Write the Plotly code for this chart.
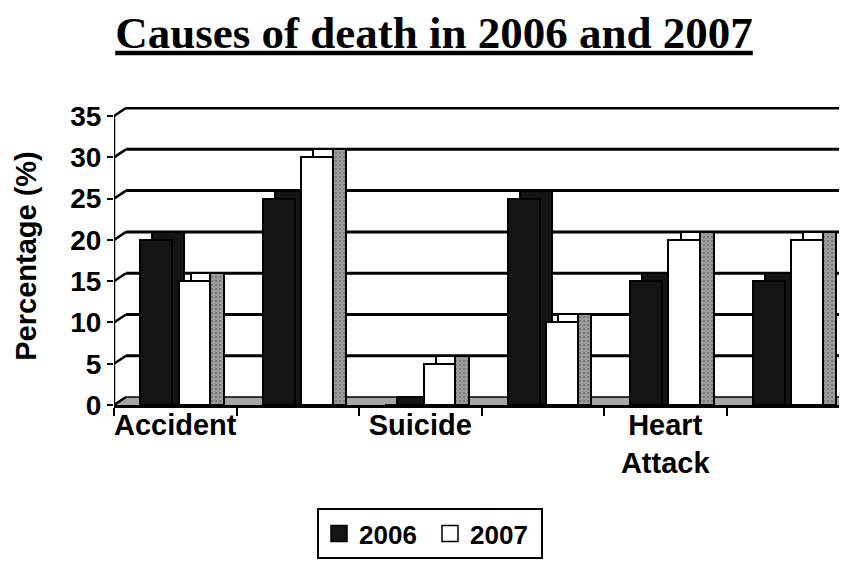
import plotly.graph_objects as go

# ---- data ----
label_text = ["Accident", "Suicide", "Heart<br>Attack"]
label_pos = [0, 2, 4]
values_2006 = [20, 25, 0, 25, 15, 15]
values_2007 = [15, 30, 5, 10, 20, 20]
y_ticks = [0, 5, 10, 15, 20, 25, 30, 35]
series_names = ["2006", "2007"]

positions = list(range(len(values_2006)))
boundaries = [p - 0.5 for p in positions] + [positions[-1] + 0.5]

# ---- 3D-look geometry (style) ----
W = 0.261          # bar width (category units)
OFF06 = -0.284     # 2006 bar offset
OFF07 = 0.0265     # 2007 bar offset
DX = 0.098         # depth shift to the right (category units)
DY = 0.97          # depth shift upwards (value units)
XMIN, XMAX = -0.5, 5.549
YMAX = 36.1

DARK = "#141414"
GREY = "#9d9d9d"
SANS = "Liberation Sans"

fig = go.Figure()

line_b = dict(color="black", width=2)

# 2006 bars: back (depth) + front
fig.add_trace(go.Bar(x=positions, y=[v + DY for v in values_2006], offset=OFF06 + DX, width=W,
                     marker=dict(color=DARK, line=line_b), showlegend=False, hoverinfo="skip"))
fig.add_trace(go.Bar(x=positions, y=values_2006, offset=OFF06, width=W,
                     marker=dict(color=DARK, line=line_b), showlegend=False, hoverinfo="skip"))
# 2007 bars: back (top face), side face, front
fig.add_trace(go.Bar(x=positions, y=[v + DY for v in values_2007], offset=OFF07 + DX, width=W,
                     marker=dict(color="white", line=line_b), showlegend=False, hoverinfo="skip"))
fig.add_trace(go.Bar(x=positions, y=[v + DY for v in values_2007], offset=OFF07 + W, width=DX + 0.01,
                     marker=dict(color=GREY, line=line_b,
                                 pattern=dict(shape=".", fgcolor="#555555", bgcolor=GREY, size=4, solidity=0.3)),
                     showlegend=False, hoverinfo="skip"))
fig.add_trace(go.Bar(x=positions, y=values_2007, offset=OFF07, width=W,
                     marker=dict(color="white", line=line_b), showlegend=False, hoverinfo="skip"))

# legend entries (carry the category-label axis)
fig.add_trace(go.Scatter(x=[None], y=[None], mode="markers", name=series_names[0], xaxis="x2",
                         marker=dict(symbol="square", size=16, color=DARK, line=dict(color="black", width=1.5))))
fig.add_trace(go.Scatter(x=[None], y=[None], mode="markers", name=series_names[1], xaxis="x2",
                         marker=dict(symbol="square", size=16, color="white", line=dict(color="black", width=1.5))))

shapes = []
# floor
shapes.append(dict(type="path", xref="x", yref="y", layer="below",
                   path=f"M {XMIN},0 L {XMIN + DX},{DY} L {XMAX},{DY} L {XMAX},0 Z",
                   fillcolor="#a6a6a6", line=dict(width=0)))
# back-wall gridlines with slanted connectors
for t in y_ticks:
    w = 1.5 if t == 0 else 3
    shapes.append(dict(type="line", xref="x", yref="y", layer="below",
                       x0=XMIN + DX, x1=XMAX, y0=t + DY, y1=t + DY, line=dict(color="black", width=w)))
    shapes.append(dict(type="line", xref="x", yref="y", layer="below",
                       x0=XMIN, x1=XMIN + DX, y0=t, y1=t + DY, line=dict(color="black", width=2.5)))
# front vertical axis line
shapes.append(dict(type="line", xref="x", yref="y", layer="above",
                   x0=XMIN, x1=XMIN, y0=0, y1=y_ticks[-1], line=dict(color="black", width=2.5)))

fig.update_layout(
    width=847, height=562,
    margin=dict(l=106, r=0, t=99, b=165),
    paper_bgcolor="white", plot_bgcolor="white",
    barmode="overlay", bargap=0,
    shapes=shapes,
    title=dict(text="<u>Causes of death in 2006 and 2007</u>",
               font=dict(family="Liberation Serif", size=45, color="black", weight="bold"),
               x=426 / 847, xref="container", xanchor="center",
               y=1 - 24 / 562, yref="container", yanchor="middle"),
    xaxis=dict(range=[XMIN, XMAX], tickvals=boundaries, ticktext=[""] * len(boundaries),
               ticks="outside", ticklen=8, tickwidth=2, tickcolor="black",
               showline=True, linecolor="black", linewidth=2.5, showgrid=False, zeroline=False,
               fixedrange=True),
    xaxis2=dict(overlaying="x", matches="x", anchor="free", position=0.0, side="bottom",
                tickvals=label_pos, ticktext=label_text, ticks="",
                tickfont=dict(family=SANS, size=29, color="black", weight="bold"),
                showline=False, showgrid=False, zeroline=False, fixedrange=True),
    yaxis=dict(range=[0, YMAX], tickvals=y_ticks, ticks="outside", ticklen=6, tickwidth=2,
               tickcolor="black", showline=False, showgrid=False, zeroline=False,
               tickfont=dict(family=SANS, size=28, color="black", weight="bold"),
               title=dict(text="Percentage (%)", standoff=25,
                          font=dict(family=SANS, size=29, color="black", weight="bold")),
               fixedrange=True),
    legend=dict(orientation="h", x=309 / 847, xref="container", xanchor="left",
                y=1 - 500 / 562, yref="container", yanchor="top",
                bordercolor="black", borderwidth=2, bgcolor="white",
                font=dict(family=SANS, size=26, color="black", weight="bold"),
                itemwidth=30, entrywidth=66, entrywidthmode="pixels"),
    showlegend=True,
)

fig.write_html("out.html")
